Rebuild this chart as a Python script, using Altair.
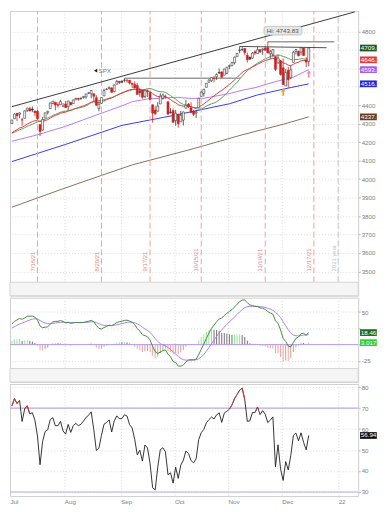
import altair as alt
import pandas as pd

FONT = "Liberation Sans"

# ---------------- data (trading-day index 0 = 2021-07-01) ----------------
prev_close = 4297.5
opens = [4300.7, 4326.6, 4356.5, 4351.0, 4321.1, 4329.4, 4372.4, 4381.1, 4380.1, 4369.0,
         4367.4, 4296.4, 4265.1, 4331.1, 4361.3, 4381.2, 4409.6, 4416.4, 4402.9, 4403.6,
         4395.1, 4406.9, 4392.7, 4415.9, 4408.9, 4429.1, 4437.8, 4435.8, 4442.2, 4446.1,
         4464.8, 4461.7, 4462.1, 4440.9, 4382.4, 4410.6, 4450.3, 4484.4, 4490.5, 4493.8,
         4474.1, 4513.8, 4529.8, 4528.8, 4534.5, 4532.4, 4535.4, 4518.1, 4513.0, 4506.9,
         4474.8, 4479.3, 4447.5, 4477.1, 4469.7, 4403.0, 4374.5, 4367.4, 4406.8, 4438.0,
         4442.1, 4419.5, 4362.4, 4370.7, 4317.2, 4348.8, 4309.9, 4319.6, 4383.7, 4406.5,
         4385.4, 4368.3, 4358.0, 4386.8, 4447.7, 4463.7, 4497.3, 4524.4, 4532.2, 4546.1,
         4553.7, 4578.7, 4580.2, 4562.8, 4572.9, 4610.6, 4613.3, 4630.7, 4662.9, 4699.3,
         4701.5, 4707.3, 4670.3, 4659.4, 4655.2, 4689.3, 4679.4, 4701.5, 4700.7, 4708.4,
         4712.0, 4678.5, 4675.8, 4664.6, 4628.8, 4640.3, 4602.8, 4504.7, 4589.5, 4548.4,
         4632.0, 4690.9, 4691.0, 4687.6, 4710.3, 4643.0, 4636.5]
highs = [4320.7, 4355.4, 4356.5, 4361.9, 4330.9, 4372.0, 4386.7, 4392.4, 4393.7, 4369.0,
         4375.1, 4296.4, 4336.8, 4359.7, 4369.9, 4415.2, 4422.7, 4416.4, 4415.5, 4430.0,
         4412.3, 4422.2, 4423.8, 4416.2, 4429.8, 4440.8, 4439.4, 4445.2, 4449.4, 4461.8,
         4468.4, 4480.3, 4462.1, 4454.3, 4418.6, 4444.4, 4489.9, 4492.8, 4501.7, 4495.9,
         4513.3, 4537.4, 4531.4, 4537.1, 4545.9, 4541.5, 4535.4, 4521.8, 4529.9, 4520.5,
         4493.0, 4485.7, 4486.9, 4485.9, 4471.5, 4403.0, 4394.9, 4416.8, 4465.4, 4463.1,
         4457.3, 4419.5, 4385.6, 4382.6, 4375.2, 4355.5, 4369.2, 4365.6, 4429.0, 4412.0,
         4415.9, 4374.9, 4372.9, 4439.7, 4475.8, 4488.8, 4520.4, 4540.9, 4551.4, 4559.7,
         4572.6, 4598.5, 4584.6, 4597.6, 4608.1, 4620.3, 4635.2, 4663.5, 4683.0, 4718.5,
         4714.9, 4708.5, 4684.9, 4664.6, 4688.5, 4697.4, 4715.0, 4701.5, 4708.8, 4717.8,
         4743.8, 4699.4, 4702.9, 4664.6, 4673.0, 4646.0, 4652.9, 4595.5, 4608.0, 4612.6,
         4694.0, 4705.1, 4695.3, 4713.6, 4710.3, 4660.5, 4712.6]
lows = [4300.7, 4326.6, 4314.4, 4329.8, 4289.4, 4329.4, 4364.0, 4366.9, 4362.4, 4340.7,
        4322.5, 4233.1, 4262.1, 4331.1, 4350.1, 4381.2, 4405.5, 4372.5, 4387.0, 4403.6,
        4389.9, 4384.8, 4373.0, 4400.2, 4408.9, 4429.1, 4424.7, 4430.0, 4436.4, 4435.5,
        4460.8, 4437.7, 4417.8, 4397.6, 4367.7, 4406.8, 4450.3, 4482.7, 4485.7, 4469.0,
        4469.9, 4513.8, 4515.8, 4522.0, 4524.7, 4521.9, 4513.0, 4494.0, 4492.1, 4457.7,
        4445.7, 4435.5, 4438.4, 4443.8, 4427.8, 4305.9, 4348.0, 4367.4, 4406.8, 4430.3,
        4436.2, 4346.3, 4355.1, 4306.4, 4288.5, 4278.9, 4309.9, 4290.5, 4383.7, 4386.2,
        4360.6, 4342.1, 4329.9, 4386.8, 4447.7, 4447.5, 4496.4, 4524.4, 4526.9, 4524.0,
        4537.4, 4569.2, 4551.7, 4562.8, 4567.6, 4595.1, 4613.3, 4621.2, 4662.6, 4681.3,
        4694.4, 4670.9, 4630.9, 4648.3, 4650.4, 4672.9, 4679.4, 4684.4, 4672.8, 4694.2,
        4682.2, 4652.7, 4659.9, 4585.4, 4625.3, 4560.0, 4510.3, 4504.7, 4495.1, 4540.5,
        4632.0, 4674.5, 4666.0, 4670.2, 4667.6, 4606.5, 4611.2]
closes = [4319.9, 4352.3, 4343.5, 4358.1, 4320.8, 4369.6, 4384.6, 4369.2, 4374.3, 4360.0,
          4327.2, 4258.5, 4323.1, 4358.7, 4367.5, 4411.8, 4422.3, 4401.5, 4400.6, 4419.2,
          4395.3, 4387.2, 4423.2, 4402.7, 4429.1, 4436.5, 4432.4, 4436.8, 4447.7, 4460.8,
          4468.0, 4479.7, 4448.1, 4400.3, 4405.8, 4441.7, 4479.5, 4486.2, 4496.2, 4470.0,
          4509.4, 4528.8, 4522.7, 4524.1, 4537.0, 4535.4, 4520.0, 4514.1, 4493.3, 4458.6,
          4468.7, 4443.1, 4480.7, 4473.8, 4433.0, 4357.7, 4354.2, 4395.6, 4449.0, 4455.5,
          4443.1, 4352.6, 4359.5, 4307.5, 4357.0, 4300.5, 4345.7, 4363.6, 4399.8, 4391.3,
          4361.2, 4350.7, 4363.8, 4438.3, 4471.4, 4486.5, 4519.6, 4536.2, 4549.8, 4544.9,
          4566.5, 4574.8, 4551.7, 4596.4, 4605.4, 4613.7, 4630.7, 4660.6, 4680.1, 4697.5,
          4701.7, 4685.3, 4646.7, 4649.3, 4682.9, 4682.8, 4700.9, 4688.7, 4704.5, 4698.0,
          4682.9, 4690.7, 4701.5, 4594.6, 4655.3, 4567.0, 4513.0, 4577.1, 4538.4, 4591.7,
          4686.8, 4701.2, 4667.5, 4712.0, 4669.0, 4634.1, 4709.9]

ema20 = [4250, 4260, 4268, 4276.5, 4281, 4289, 4298, 4305, 4312, 4316,
         4317, 4312, 4313, 4317, 4322, 4330, 4339, 4345, 4350, 4357,
         4360, 4363, 4368.5, 4372, 4377, 4383, 4388, 4392, 4397, 4403,
         4409, 4416, 4419, 4417, 4416, 4418.5, 4424, 4430, 4436, 4440,
         4446, 4454, 4461, 4467, 4473, 4479, 4483, 4486, 4486.5, 4484,
         4482.5, 4479, 4479, 4478.5, 4474, 4463, 4453, 4447.5, 4447.5, 4448,
         4448, 4439, 4431, 4420, 4414, 4403, 4398, 4395, 4395, 4395,
         4392, 4388, 4386, 4391, 4398.5, 4407, 4418, 4429, 4440.5, 4450,
         4461, 4472, 4480, 4491, 4502, 4512.5, 4524, 4537, 4550.5, 4564.5,
         4577.5, 4588, 4593.5, 4599, 4607, 4614, 4622, 4628.5, 4636, 4642,
         4646, 4650, 4655, 4649, 4650, 4642, 4630, 4625, 4617, 4614.5,
         4621.5, 4629, 4633, 4640.5, 4643, 4642, 4647]
sma20 = [4248.3, 4254.4, 4260.2, 4266.8, 4271.8, 4278.4, 4285.3, 4291.0, 4297.3, 4304.1,
         4309.4, 4314.0, 4318.9, 4324.5, 4330.8, 4338.1, 4345.1, 4350.6, 4356.1, 4362.1,
         4365.9, 4367.6, 4371.6, 4373.8, 4379.2, 4382.6, 4384.9, 4388.3, 4392.0, 4397.1,
         4404.1, 4415.2, 4421.5, 4423.5, 4425.5, 4427.0, 4429.9, 4434.1, 4438.9, 4441.4,
         4447.1, 4454.2, 4459.2, 4465.3, 4470.7, 4475.6, 4480.0, 4483.8, 4486.1, 4486.0,
         4486.0, 4484.2, 4485.8, 4489.5, 4490.9, 4486.7, 4480.4, 4475.9, 4473.5, 4472.8,
         4469.5, 4460.7, 4452.5, 4441.7, 4432.7, 4420.9, 4412.2, 4404.7, 4400.1, 4396.7,
         4391.3, 4386.7, 4380.8, 4379.0, 4380.9, 4387.3, 4395.6, 4402.6, 4407.7, 4412.2,
         4418.3, 4429.4, 4439.1, 4453.5, 4465.9, 4481.6, 4495.8, 4510.7, 4524.7, 4540.0,
         4557.1, 4573.8, 4587.9, 4598.5, 4609.1, 4618.9, 4628.0, 4635.6, 4643.4, 4651.0,
         4656.9, 4662.7, 4670.1, 4670.1, 4672.6, 4670.2, 4664.3, 4660.1, 4653.0, 4647.7,
         4647.0, 4647.8, 4648.8, 4651.9, 4651.2, 4648.8, 4652.0]
sma50_idx = [0, 10, 21, 32, 43, 47, 53, 58, 64, 70, 75, 85, 90, 95, 100, 106, 110, 116]
sma50_val = [4205, 4240, 4286, 4342, 4397, 4419, 4434, 4438, 4443, 4437, 4438, 4463,
             4481, 4495, 4516, 4539, 4552, 4593]
sma100_idx = [0, 21, 43, 64, 85, 96, 106, 116]
sma100_val = [4095, 4188, 4291, 4347, 4408, 4456, 4487, 4516]
sma200_idx = [0, 20, 35, 47, 71, 90, 106, 116]
sma200_val = [3848, 3948, 4020, 4077, 4165, 4240, 4297, 4337]

macd = [31.5, 35.7, 37.9, 40.3, 38.8, 41.0, 43.5, 43.7, 43.8, 42.2,
        37.8, 28.5, 26.0, 26.7, 27.5, 31.4, 34.9, 35.6, 35.8, 36.9,
        35.5, 33.3, 34.1, 32.7, 33.3, 34.0, 33.8, 33.7, 34.1, 35.0,
        35.9, 37.2, 35.2, 29.4, 25.0, 24.1, 26.2, 28.0, 29.9, 29.0,
        31.0, 33.8, 35.2, 36.0, 37.2, 37.5, 36.2, 34.2, 30.6, 24.8,
        20.7, 15.2, 13.8, 12.0, 7.1, -2.7, -10.8, -13.6, -11.4, -9.1,
        -8.1, -14.5, -18.8, -26.0, -27.5, -32.9, -33.0, -31.3, -26.7, -23.6,
        -23.2, -23.4, -22.4, -15.4, -7.1, 0.7, 9.5, 17.6, 24.9, 29.8,
        35.1, 39.5, 40.7, 44.7, 48.0, 50.8, 53.7, 57.8, 61.9, 65.8,
        68.5, 68.4, 64.5, 60.9, 60.0, 58.6, 58.4, 56.5, 55.8, 54.0,
        50.8, 48.4, 46.7, 36.4, 32.7, 22.4, 9.7, 4.8, -2.2, -3.4,
        3.3, 9.6, 11.7, 16.9, 17.3, 14.6, 18.46]
signal = [25.5, 27.5, 29.6, 31.7, 33.1, 34.7, 36.5, 37.9, 39.1, 39.7,
          39.3, 37.1, 34.9, 33.3, 32.1, 32.0, 32.6, 33.2, 33.7, 34.3,
          34.5, 34.3, 34.3, 34.0, 33.9, 33.9, 33.9, 33.9, 33.9, 34.1,
          34.5, 35.0, 35.0, 33.9, 32.1, 30.5, 29.6, 29.3, 29.4, 29.3,
          29.6, 30.4, 31.4, 32.3, 33.3, 34.1, 34.5, 34.4, 33.6, 31.8,
          29.6, 26.7, 24.1, 21.7, 18.8, 14.5, 9.4, 4.8, 1.6, -0.5,
          -2.0, -4.5, -7.4, -11.1, -14.4, -18.1, -21.1, -23.1, -23.8, -23.8,
          -23.7, -23.6, -23.4, -21.8, -18.9, -15.0, -10.1, -4.6, 1.3, 7.0,
          12.6, 18.0, 22.5, 26.9, 31.1, 35.0, 38.7, 42.5, 46.4, 50.3,
          53.9, 56.8, 58.3, 58.8, 59.0, 58.9, 58.8, 58.3, 57.8, 57.0,
          55.8, 54.3, 52.8, 49.5, 46.1, 41.4, 35.1, 29.0, 22.8, 17.6,
          14.7, 13.7, 13.3, 14.0, 14.7, 14.7, 15.44]
hist = [6.0, 8.2, 8.3, 8.6, 5.7, 6.3, 7.0, 5.8, 4.7, 2.5,
        -1.5, -8.6, -8.9, -6.6, -4.6, -0.6, 2.3, 2.4, 2.1, 2.6,
        1.0, -1.0, -0.2, -1.3, -0.6, 0.1, -0.1, -0.2, 0.2, 0.9,
        1.4, 2.2, 0.2, -4.5, -7.1, -6.4, -3.4, -1.3, 0.5, -0.3,
        1.4, 3.4, 3.8, 3.7, 3.9, 3.4, 1.7, -0.2, -3.0, -7.0,
        -8.9, -11.5, -10.3, -9.7, -11.7, -17.2, -20.2, -18.4, -13.0, -8.6,
        -6.1, -10.0, -11.4, -14.9, -13.1, -14.8, -11.9, -8.2, -2.9, 0.2,
        0.5, 0.2, 1.0, 6.4, 11.8, 15.7, 19.6, 22.2, 23.6, 22.8,
        22.5, 21.5, 18.2, 17.8, 16.9, 15.8, 15.0, 15.3, 15.5, 15.5,
        14.6, 11.6, 6.2, 2.1, 1.0, -0.3, -0.4, -1.8, -2.0, -3.0,
        -5.0, -5.9, -6.1, -13.1, -13.4, -19.0, -25.4, -24.2, -25.0, -21.0,
        -11.4, -4.1, -1.6, 2.9, 2.6, -0.1, 3.017]
rsi = [71.0, 74.5, 72.2, 73.7, 63.6, 69.6, 71.1, 67.2, 67.8, 64.2,
       56.7, 43.0, 54.0, 58.8, 59.7, 64.5, 65.4, 61.6, 61.6, 63.7,
       59.1, 57.6, 62.2, 58.4, 61.7, 62.7, 61.6, 62.3, 63.8, 65.6,
       66.6, 68.2, 59.8, 49.8, 50.9, 57.0, 62.3, 63.1, 64.4, 58.6,
       63.9, 66.3, 64.9, 65.0, 66.8, 66.2, 62.1, 60.5, 55.1, 47.7,
       49.9, 44.7, 52.4, 51.0, 43.6, 32.0, 31.0, 41.8, 50.2, 51.1,
       49.2, 38.2, 39.1, 34.2, 41.8, 36.5, 42.8, 45.1, 49.5, 48.4,
       45.0, 43.9, 45.8, 55.0, 58.3, 59.8, 63.0, 64.5, 65.7, 64.8,
       66.8, 67.7, 63.2, 67.6, 68.5, 69.5, 71.5, 74.5, 76.5, 78.5,
       79.5, 74.0, 63.7, 63.9, 67.9, 67.9, 70.5, 66.9, 68.8, 67.0,
       63.1, 64.3, 65.8, 42.0, 52.5, 41.0, 35.5, 44.5, 40.5, 47.5,
       57.0, 58.1, 54.4, 58.2, 53.6, 50.1, 56.94]

# annotations
opt_idx = [10, 35, 54, 74, 99, 118]
opt_lbl = ["7/16/21", "8/20/21", "9/17/21", "10/15/21", "11/19/21", "12/17/21"]
year_idx = [127.5]
year_lbl = ["2021 year"]
month_pos = [20.5, 42.5, 63.5, 84.5, 105.5, 127.5]
month_lbl = ["Aug", "Sep", "Oct", "Nov", "Dec", "22"]
price_ticks = [3500, 3600, 3700, 3800, 3900, 4000, 4100, 4200, 4300, 4400, 4500, 4600, 4700, 4800]
price_hidden = [4500, 4600, 4700]
macd_ticks = [-25, 0, 25, 50]
macd_hidden = [0, 25]
rsi_ticks = [30, 40, 50, 60, 70, 80]
trend_idx = [0, 134]
trend_val = [4392.4, 4905.6]
sep_hi_idx = [44, 89.5]
sep_hi_val = [4545.9, 4545.9]
nov_hi_idx = [100, 126]
nov_hi_val = [4743.8, 4743.8]
nov_res_idx = [89, 123]
nov_res_val = [4718.5, 4711.5]
arrow_idx = [106, 116]
arrow_val = [4471, 4569]
arrow_col = ["#f0a030", "#f48cb8"]
spx_idx, spx_val = 32.7, 4587.5
hi_idx, hi_val, hi_text = 100, 4743.8, "Hi: 4743.83"
main_lbl_val = [4709.85, 4646.0, 4593.0, 4516.0, 4337.0]
main_lbl_txt = ["4709.", "4646.", "4593.", "4516.", "4337."]
main_lbl_col = ["#1f5a22", "#e23b3b", "#a95cf0", "#2323d8", "#6a3c1c"]
macd_lbl_val = [18.46, 3.017]
macd_lbl_txt = ["18.46", "3.017"]
macd_lbl_col = ["#1e6a1e", "#33cc33"]
rsi_lbl_val = [56.94]
rsi_lbl_txt = ["56.94"]

# ---------------- layout constants ----------------
XMIN, XMAX = -0.743, 135.316
W = 351
H_MAIN, H_MACD, H_RSI = 287, 85, 113
P_TOP, P_BOT, P_BAND = 4910.4, 3441.7, 3368.75
M_TOP, M_BOT, M_BAND = 72.06, -36.76, -57.35
R_TOP, R_BOT = 81.5, 28.05
FS = 6.3
BOX_X0, BOX_X1, BOX_H = 1.9, 18.8, 3.4

xs = alt.Scale(domain=[XMIN, XMAX], nice=False, zero=False)
ysp = alt.Scale(domain=[P_BAND, P_TOP], nice=False, zero=False)
ysm = alt.Scale(domain=[M_BAND, M_TOP], nice=False, zero=False)
ysr = alt.Scale(domain=[R_BOT, R_TOP], nice=False, zero=False)

grid_x = alt.Axis(values=month_pos, grid=True, gridColor="#d6d6d6", gridDash=[1, 2],
                  labels=False, ticks=False, domain=False, title=None)


def yaxis(vals, hidden):
    hid = ",".join(str(h) for h in hidden)
    return alt.Axis(orient="right", values=vals, grid=True, gridColor="#dcdcdc", gridDash=[1, 2],
                    tickSize=2, tickColor="#b5b5b5", labelFontSize=FS, labelColor="#808080",
                    labelFont=FONT, labelPadding=1, domain=False, title=None, labelOverlap=False,
                    labelExpr=f"indexof([{hid}], datum.value) >= 0 ? '' : '' + datum.value")


n = len(closes)
idx = list(range(n))

# ================= main price panel =================
XA, YA, YS = grid_x, yaxis(price_ticks, price_hidden), ysp


def X(f):
    return alt.X(f, type="quantitative", scale=xs, axis=XA)


def Y(f):
    return alt.Y(f, type="quantitative", scale=YS, axis=YA)


prev = [prev_close] + closes[:-1]
cdf = pd.DataFrame({"i": idx, "o": opens, "h": highs, "l": lows, "c": closes})
cdf["col"] = ["#cc2020" if c < p else "#3a3a3a" for c, p in zip(closes, prev)]
cdf["fill"] = [col if c < o else "#ffffff" for col, c, o in zip(cdf["col"], closes, opens)]
cdf["x1"] = cdf["i"] - 0.38
cdf["x2"] = cdf["i"] + 0.38

ma_rows = []
for name, color, ii, vv in [("sma200", "#8c7060", sma200_idx, sma200_val),
                            ("sma100", "#3b3bf2", sma100_idx, sma100_val),
                            ("sma50", "#b47cf6", sma50_idx, sma50_val),
                            ("sma20", "#5aa05a", idx, sma20),
                            ("ema20", "#e23b3b", idx, ema20)]:
    for a, b in zip(ii, vv):
        ma_rows.append({"s": name, "color": color, "i": a, "v": b})
madf = pd.DataFrame(ma_rows)

ln_rows = []
for name, color, w, ii, vv in [("trend", "#3a3a3a", 1.0, trend_idx, trend_val),
                               ("sephi", "#9c9c9c", 1.5, sep_hi_idx, sep_hi_val),
                               ("novhi", "#9c9c9c", 1.3, nov_hi_idx, nov_hi_val),
                               ("novres", "#505050", 1.0, nov_res_idx, nov_res_val)]:
    for a, b in zip(ii, vv):
        ln_rows.append({"s": name, "color": color, "w": w, "i": a, "v": b})
lndf = pd.DataFrame(ln_rows)

optdf = pd.DataFrame({"i": opt_idx, "t": opt_lbl, "lo": P_BOT, "hi": P_TOP, "ty": 3500})
yrdf = pd.DataFrame({"i": year_idx, "t": year_lbl, "lo": P_BOT, "hi": P_TOP, "ty": 3500})
arrdf = pd.DataFrame({"i": arrow_idx, "v": arrow_val, "c": arrow_col})
spxdf = pd.DataFrame({"i": [spx_idx], "v": [spx_val], "t": ["SPX"]})
hidf = pd.DataFrame({"i": [hi_idx], "v": [hi_val], "t": [hi_text]})
banddf = pd.DataFrame({"a": [XMIN], "b": [XMAX], "lo": [P_BAND], "hi": [P_BOT]})
mlbl = pd.DataFrame({"xe": XMAX, "v": main_lbl_val, "t": main_lbl_txt, "bg": main_lbl_col})

ARROW = "M0,-1L0.65,-0.15L0.22,-0.15L0.22,1L-0.22,1L-0.22,-0.15L-0.65,-0.15Z"

layers = [
    alt.Chart(madf).mark_line(strokeWidth=1, clip=True).encode(
        x=X("i"), y=Y("v"), color=alt.Color("color:N", scale=None), detail="s:N"),
    alt.Chart(optdf).mark_rule(color="#eba3a3", strokeDash=[6, 3], strokeWidth=1).encode(
        x=X("i"), y=Y("lo"), y2="hi"),
    alt.Chart(yrdf).mark_rule(color="#c4c4c4", strokeDash=[6, 3], strokeWidth=1).encode(
        x=X("i"), y=Y("lo"), y2="hi"),
    alt.Chart(optdf).mark_text(angle=270, align="left", baseline="middle", dy=-4.8,
                               fontSize=FS - 0.3, font=FONT, color="#e08585").encode(
        x=X("i"), y=Y("ty"), text="t:N"),
    alt.Chart(yrdf).mark_text(angle=270, align="left", baseline="middle", dy=-3.8,
                              fontSize=FS - 0.3, font=FONT, color="#c0c0c0").encode(
        x=X("i"), y=Y("ty"), text="t:N"),
    alt.Chart(lndf).mark_line(clip=True).encode(
        x=X("i"), y=Y("v"), color=alt.Color("color:N", scale=None),
        strokeWidth=alt.StrokeWidth("w:Q", scale=None), detail="s:N"),
    alt.Chart(cdf).mark_rule(strokeWidth=0.8, clip=True).encode(
        x=X("i"), y=Y("l"), y2="h", color=alt.Color("col:N", scale=None)),
    alt.Chart(cdf).mark_rect(strokeWidth=0.6, clip=True).encode(
        x=X("x1"), x2="x2", y=Y("o"), y2="c",
        fill=alt.Fill("fill:N", scale=None), stroke=alt.Stroke("col:N", scale=None)),
    alt.Chart(arrdf).mark_point(shape=ARROW, filled=True, size=55, opacity=1).encode(
        x=X("i"), y=Y("v"), color=alt.Color("c:N", scale=None)),
    alt.Chart(spxdf).mark_point(shape="triangle-left", filled=True, size=15, color="#222222",
                                opacity=1).encode(x=X("i"), y=Y("v")),
    alt.Chart(spxdf).mark_text(align="left", baseline="middle", dx=3, fontSize=FS, font=FONT,
                               color="#7a7a7a").encode(x=X("i"), y=Y("v"), text="t:N"),
    alt.Chart(hidf).mark_rect(xOffset=-3.8, x2Offset=34.5, yOffset=-15.5, y2Offset=-6.8,
                              cornerRadius=2, fill="#e6e6e6", stroke="#aaaaaa",
                              strokeWidth=0.6).encode(x=X("i"), x2="i", y=Y("v"), y2="v"),
    alt.Chart(hidf).mark_text(align="left", baseline="middle", dx=-1, dy=-11.1, fontSize=FS,
                              font=FONT, color="#555555").encode(x=X("i"), y=Y("v"), text="t:N"),
    alt.Chart(banddf).mark_rect(fill="#f5f5f5", stroke="#d4d4d4", strokeWidth=1).encode(
        x=X("a"), x2="b", y=Y("lo"), y2="hi"),
    alt.Chart(mlbl).mark_rect(xOffset=BOX_X0, x2Offset=BOX_X1, yOffset=-BOX_H, y2Offset=BOX_H).encode(
        x=X("xe"), x2="xe", y=Y("v"), y2="v", color=alt.Color("bg:N", scale=None)),
    alt.Chart(mlbl).mark_text(align="left", baseline="middle", dx=2.6, fontSize=FS, font=FONT,
                              color="white").encode(x=X("xe"), y=Y("v"), text="t:N"),
]
main = alt.layer(*layers).properties(width=W, height=H_MAIN)

# ================= MACD panel =================
XA, YA, YS = grid_x, yaxis(macd_ticks, macd_hidden), ysm

hcol = []
for k, h in enumerate(hist):
    p = hist[k - 1] if k else h
    if h >= 0:
        hcol.append("#92e692" if h >= p else "#707070")
    else:
        hcol.append("#f2a2a2" if h < p else "#b4a898")
hdf = pd.DataFrame({"i": idx, "h": hist, "z": 0.0, "col": hcol})
mdf = pd.DataFrame({"i": idx * 2, "v": signal + macd,
                    "s": ["sig"] * n + ["macd"] * n,
                    "color": ["#b27df2"] * n + ["#3f8f3f"] * n})
zdf = pd.DataFrame({"z": [0.0]})
mband = pd.DataFrame({"a": [XMIN], "b": [XMAX], "lo": [M_BAND], "hi": [M_BOT]})
mlab = pd.DataFrame({"xe": XMAX, "v": macd_lbl_val, "t": macd_lbl_txt, "bg": macd_lbl_col})

macd_c = alt.layer(
    alt.Chart(hdf).mark_rule(strokeWidth=1, clip=True).encode(
        x=X("i"), y=Y("z"), y2="h", color=alt.Color("col:N", scale=None)),
    alt.Chart(zdf).mark_rule(color="#b49ae6", strokeWidth=1).encode(y=Y("z")),
    alt.Chart(mdf).mark_line(strokeWidth=1, clip=True).encode(
        x=X("i"), y=Y("v"), color=alt.Color("color:N", scale=None), detail="s:N"),
    alt.Chart(mband).mark_rect(fill="#f5f5f5", stroke="#d4d4d4", strokeWidth=1).encode(
        x=X("a"), x2="b", y=Y("lo"), y2="hi"),
    alt.Chart(mlab).mark_rect(xOffset=BOX_X0, x2Offset=BOX_X1, yOffset=-BOX_H, y2Offset=BOX_H).encode(
        x=X("xe"), x2="xe", y=Y("v"), y2="v", color=alt.Color("bg:N", scale=None)),
    alt.Chart(mlab).mark_text(align="left", baseline="middle", dx=2.6, fontSize=FS, font=FONT,
                              color="white").encode(x=X("xe"), y=Y("v"), text="t:N"),
).properties(width=W, height=H_MACD)

# ================= RSI panel =================
expr = "'Jul'"
for pos, name in zip(month_pos, month_lbl):
    expr = f"datum.value >= {pos - 1} ? '{name}' : (" + expr + ")"
XA = alt.Axis(values=[XMIN] + month_pos, grid=True, gridColor="#d6d6d6", gridDash=[1, 2],
              labelExpr=expr, labelAlign="left", labelFlush=False, labelPadding=2, labelOffset=0,
              labelFontSize=FS, labelColor="#808080", labelFont=FONT, labelOverlap=False,
              ticks=False, domain=False, title=None)
YA, YS = yaxis(rsi_ticks, []), ysr

rdf = pd.DataFrame({"i": idx, "v": rsi})
seg = [{"a": k, "b": k + 1, "va": rsi[k], "vb": rsi[k + 1]}
       for k in range(n - 1) if (rsi[k] + rsi[k + 1]) / 2 > 69]
sdf = pd.DataFrame(seg)
lvl = pd.DataFrame({"z": [70.0, 30.0]})
rlab = pd.DataFrame({"xe": XMAX, "v": rsi_lbl_val, "t": rsi_lbl_txt})

rsi_c = alt.layer(
    alt.Chart(lvl).mark_rule(color="#b9a8f2", strokeWidth=1.2).encode(y=Y("z")),
    alt.Chart(rdf).mark_line(strokeWidth=0.9, color="#1e1e1e", clip=True).encode(
        x=X("i"), y=Y("v")),
    alt.Chart(sdf).mark_rule(strokeWidth=1, color="#c83a3a", clip=True).encode(
        x=X("a"), x2="b", y=Y("va"), y2="vb"),
    alt.Chart(rlab).mark_rect(xOffset=BOX_X0, x2Offset=BOX_X1, yOffset=-BOX_H, y2Offset=BOX_H,
                              color="#111111").encode(x=X("xe"), x2="xe", y=Y("v"), y2="v"),
    alt.Chart(rlab).mark_text(align="left", baseline="middle", dx=2.6, fontSize=FS, font=FONT,
                              color="white").encode(x=X("xe"), y=Y("v"), text="t:N"),
).properties(width=W, height=H_RSI)

chart = alt.vconcat(main, macd_c, rsi_c, spacing=0).resolve_scale(
    x="independent", y="independent").properties(padding=0, background="white").configure_view(
    stroke="#cfcfcf", strokeWidth=1)

chart.save("out.html", embed_options={"renderer": "svg", "actions": False})
